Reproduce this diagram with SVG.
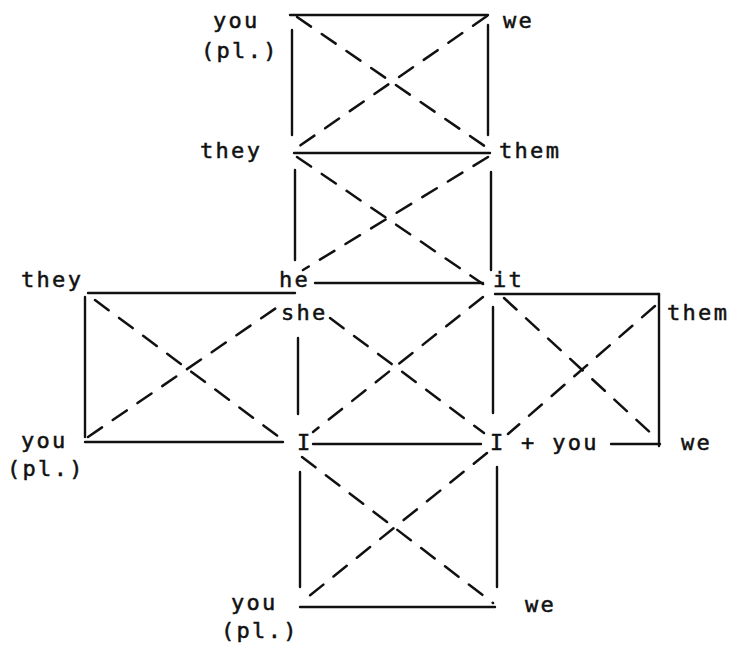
<svg xmlns="http://www.w3.org/2000/svg" width="731" height="648" viewBox="0 0 731 648">
<style>
.bg{fill:#fff}
text{font-family:"DejaVu Sans Mono","Liberation Mono",monospace;font-size:22px;fill:#111;stroke:#111;stroke-width:0.5;letter-spacing:2.3px}
.s{stroke:#111;stroke-width:2.4;fill:none;stroke-linecap:round}
.d{stroke:#111;stroke-width:2.5;fill:none;stroke-dasharray:17 13;stroke-linecap:round}
</style>
<rect class="bg" x="0" y="0" width="731" height="648"/>
<g id="connectors">
<!-- top square -->
<line class="s" x1="290" y1="15" x2="488" y2="15"/>
<line class="s" x1="292" y1="30" x2="292" y2="135"/>
<line class="s" x1="488" y1="25" x2="488" y2="135"/>
<line class="s" x1="294" y1="153" x2="490" y2="153"/>
<line class="d" x1="297" y1="17" x2="486" y2="147"/>
<line class="d" x1="487" y1="16" x2="298" y2="147"/>
<!-- middle square -->
<line class="s" x1="295" y1="170" x2="295" y2="260"/>
<line class="s" x1="491" y1="172" x2="491" y2="270"/>
<line class="s" x1="315" y1="283" x2="483" y2="283"/>
<line class="d" x1="297" y1="157" x2="483" y2="284"/>
<line class="d" x1="488" y1="157" x2="303" y2="270"/>
<!-- left square -->
<line class="s" x1="88" y1="293" x2="295" y2="293"/>
<line class="s" x1="85" y1="297" x2="85" y2="437"/>
<line class="s" x1="85" y1="442" x2="283" y2="442"/>
<line class="d" x1="95" y1="300" x2="283" y2="440"/>
<line class="d" x1="88" y1="437" x2="282" y2="304"/>
<!-- center square -->
<line class="s" x1="298" y1="338" x2="298" y2="414"/>
<line class="s" x1="493" y1="307" x2="493" y2="413"/>
<line class="s" x1="313" y1="444" x2="481" y2="444"/>
<line class="d" x1="330" y1="318" x2="484" y2="433"/>
<line class="d" x1="483" y1="297" x2="313" y2="432"/>
<!-- right square -->
<line class="s" x1="495" y1="294" x2="659" y2="294"/>
<line class="s" x1="659" y1="294" x2="659" y2="446"/>
<line class="s" x1="611" y1="444" x2="660" y2="444"/>
<line class="d" x1="504" y1="298" x2="655" y2="437"/>
<line class="d" x1="655" y1="306" x2="508" y2="434"/>
<!-- bottom square -->
<line class="s" x1="300" y1="472" x2="300" y2="587"/>
<line class="s" x1="497" y1="467" x2="497" y2="587"/>
<line class="s" x1="300" y1="607" x2="495" y2="607"/>
<line class="d" x1="302" y1="457" x2="493" y2="603"/>
<line class="d" x1="487" y1="453" x2="303" y2="601"/>
</g>
<g id="n-you-pl-top"><text x="213" y="28">you</text><text x="201" y="58">(pl.)</text></g>
<g id="n-we-top"><text x="503" y="28">we</text></g>
<g id="n-they-top"><text x="200" y="158">they</text></g>
<g id="n-them-top"><text x="499" y="158">them</text></g>
<g id="n-they-left"><text x="21" y="287">they</text></g>
<g id="n-he-she"><text x="279" y="287">he</text><text x="281" y="320">she</text></g>
<g id="n-it"><text x="493" y="287">it</text></g>
<g id="n-them-right"><text x="667" y="320">them</text></g>
<g id="n-you-pl-left"><text x="21" y="448">you</text><text x="7" y="476">(pl.)</text></g>
<g id="n-I"><text x="297" y="450">I</text></g>
<g id="n-I-you"><text x="490" y="450">I + you</text></g>
<g id="n-we-right"><text x="681" y="450">we</text></g>
<g id="n-you-pl-bottom"><text x="231" y="610">you</text><text x="221" y="638">(pl.)</text></g>
<g id="n-we-bottom"><text x="525" y="612">we</text></g>
</svg>
